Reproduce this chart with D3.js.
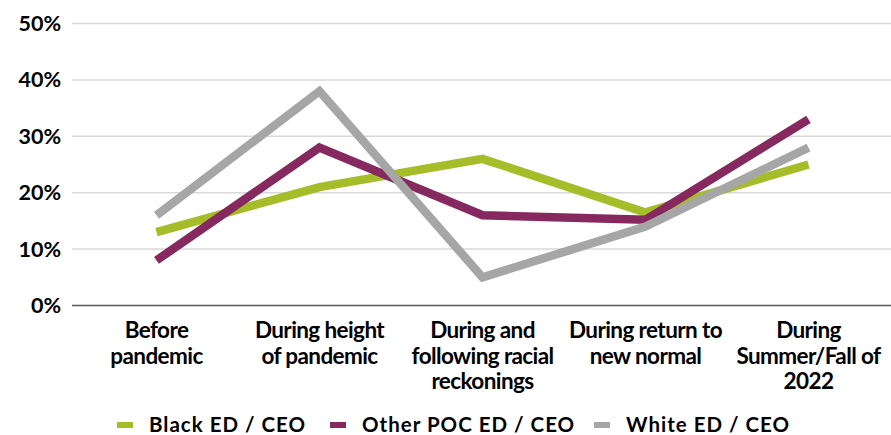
<!DOCTYPE html>
<html><head><meta charset="utf-8">
<script src="https://cdn.jsdelivr.net/npm/d3@7"></script>
<style>body{margin:0;background:#fff}svg{display:block}text{font-family:Lato,"Open Sans",sans-serif;font-weight:bold;fill:#000}</style>
</head><body><svg id="c" width="891" height="435"></svg>
<script>
const categories = [["Before","pandemic"],["During height","of pandemic"],["During and","following racial","reckonings"],["During return to","new normal"],["During","Summer/Fall of","2022"]];
const seriesNames = ["Black ED / CEO","Other POC ED / CEO","White ED / CEO"];
const blackVals = [13,21,26,16.5,25];
const pocVals = [8,28,16,15.2,33];
const whiteVals = [16,38,5,14,28];
const yTicks = [0,10,20,30,40,50];
const colors = ["#a6bd2a","#85295e","#a6a6a6"];
const series = [blackVals,pocVals,whiteVals];

const svg = d3.select("#c");
const x = d3.scaleBand().domain(d3.range(categories.length)).range([75,890]);
const y = d3.scaleLinear().domain([0,50]).range([305.5,23.5]);

const grid = svg.append("g");
grid.selectAll("line").data(yTicks.filter(d=>d>0)).join("line")
  .attr("x1",72).attr("x2",891).attr("y1",d=>y(d)).attr("y2",d=>y(d))
  .attr("stroke","#d9d9d9").attr("stroke-width",1.5);
svg.append("line").attr("x1",72).attr("x2",891).attr("y1",y(0)).attr("y2",y(0)).attr("stroke","#595959").attr("stroke-width",1.5);

svg.append("g").selectAll("text").data(yTicks).join("text")
  .attr("x",61).attr("y",d=>y(d)+7.5).attr("text-anchor","end").attr("font-size",21.5)
  .text(d=>d+"%");

const xl = svg.append("g");
categories.forEach((lines,i)=>{
  const t = xl.append("text").attr("text-anchor","middle").attr("font-size",22.5).attr("letter-spacing",-0.6);
  lines.forEach((l,j)=>t.append("tspan").attr("x",x(i)+x.bandwidth()/2).attr("y",338+j*25.5).text(l));
});

const line = d3.line().x((d,i)=>x(i)+x.bandwidth()/2).y(d=>y(d));
series.forEach((s,k)=>{
  svg.append("path").datum(s).attr("d",line).attr("fill","none")
    .attr("stroke",colors[k]).attr("stroke-width",8.5).attr("stroke-linejoin","miter");
});

const lg = svg.append("g");
const lx = [117,330,594];
seriesNames.forEach((n,k)=>{
  lg.append("rect").attr("x",lx[k]).attr("y",422).attr("width",16).attr("height",6).attr("fill",colors[k]);
  lg.append("text").attr("x",lx[k]+32).attr("y",432).attr("font-size",20.5).attr("letter-spacing",1).text(n);
});
</script></body></html>
